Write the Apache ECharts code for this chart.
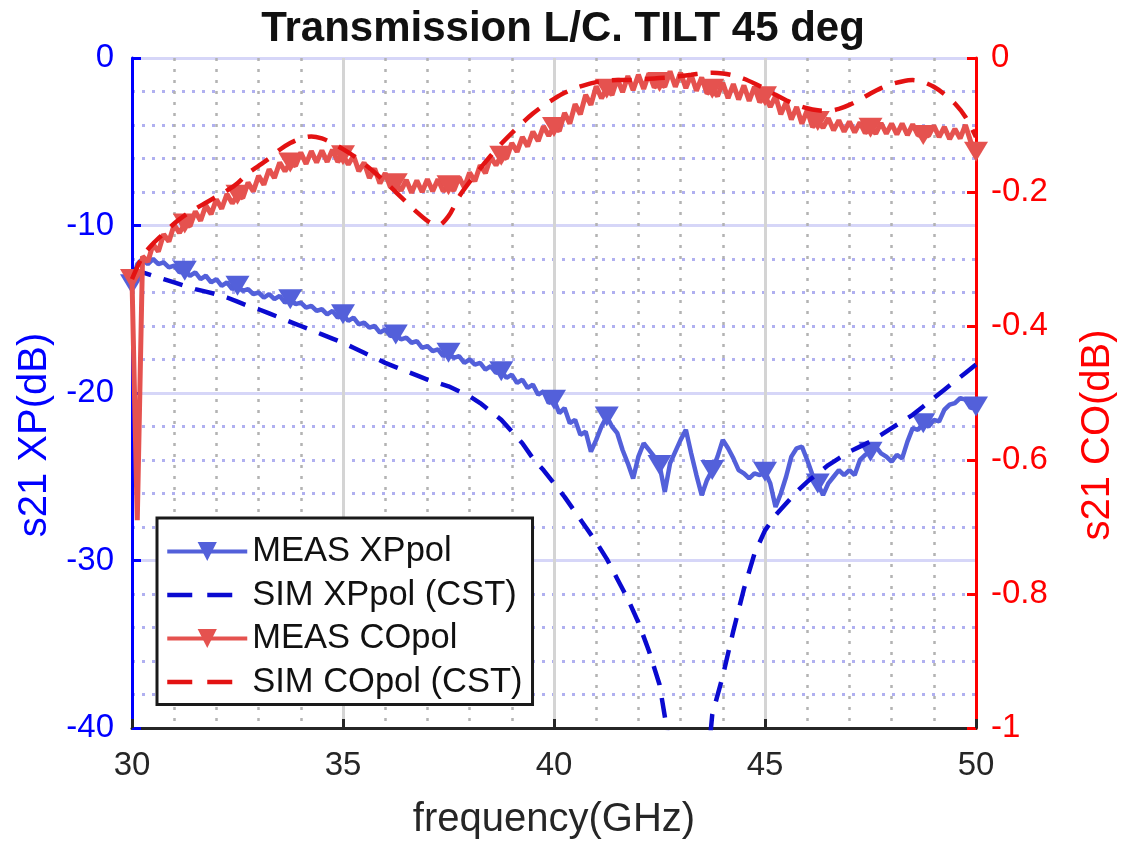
<!DOCTYPE html>
<html>
<head>
<meta charset="utf-8">
<script src="https://cdn.jsdelivr.net/npm/echarts@6/dist/echarts.min.js"></script>
<style>
html,body{margin:0;padding:0;background:#fff;}
#chart{width:1126px;height:848px;}
</style>
</head>
<body>
<div id="chart"></div>
<script>
// ---- data ----
const titleText = 'Transmission L/C. TILT 45 deg';
const seriesNames = ['MEAS XPpol', 'SIM XPpol (CST)', 'MEAS COpol', 'SIM COpol (CST)'];

const freqMeas = [30,30.125,30.25,30.375,30.5,30.625,30.75,30.875,31,31.125,31.25,31.375,31.5,31.625,31.75,31.875,
32,32.125,32.25,32.375,32.5,32.625,32.75,32.875,33,33.125,33.25,33.375,33.5,33.625,33.75,33.875,
34,34.125,34.25,34.375,34.5,34.625,34.75,34.875,35,35.125,35.25,35.375,35.5,35.625,35.75,35.875,
36,36.125,36.25,36.375,36.5,36.625,36.75,36.875,37,37.125,37.25,37.375,37.5,37.625,37.75,37.875,
38,38.125,38.25,38.375,38.5,38.625,38.75,38.875,39,39.125,39.25,39.375,39.5,39.625,39.75,39.875,
40,40.125,40.25,40.375,40.5,40.625,40.75,40.875,41,41.125,41.25,41.375,41.5,41.625,41.75,41.875,
42,42.125,42.25,42.375,42.5,42.625,42.75,42.875,43,43.125,43.25,43.375,43.5,43.625,43.75,43.875,
44,44.125,44.25,44.375,44.5,44.625,44.75,44.875,45,45.125,45.25,45.375,45.5,45.625,45.75,45.875,
46,46.125,46.25,46.375,46.5,46.625,46.75,46.875,47,47.125,47.25,47.375,47.5,47.625,47.75,47.875,
48,48.125,48.25,48.375,48.5,48.625,48.75,48.875,49,49.125,49.25,49.375,49.5,49.625,49.75,49.875,50];

const measXP = [-13.5,-12.3,-12.0,-12.3,-12.0,-12.3,-12.2,-12.5,-12.4,-12.8,-12.7,-13.0,-12.8,-13.2,-13.0,-13.4,
-13.2,-13.6,-13.4,-13.8,-13.6,-13.9,-13.8,-14.1,-14.0,-14.3,-14.1,-14.4,-14.2,-14.6,-14.4,-14.7,
-14.6,-14.9,-14.8,-15.1,-15.0,-15.3,-15.1,-15.5,-15.3,-15.7,-15.5,-15.9,-15.8,-16.1,-16.0,-16.4,
-16.2,-16.6,-16.5,-16.8,-16.7,-17.0,-16.9,-17.3,-17.2,-17.5,-17.4,-17.8,-17.6,-17.9,-17.8,-18.2,
-18.0,-18.3,-18.2,-18.6,-18.4,-18.8,-18.7,-19.1,-18.9,-19.4,-19.2,-19.7,-19.5,-20.1,-19.9,-20.6,
-20.4,-21.2,-20.9,-21.8,-21.6,-22.5,-22.3,-23.5,-22.8,-22.0,-21.4,-22.0,-22.4,-23.4,-24.2,-25.1,
-23.8,-23.0,-23.4,-23.8,-24.3,-25.9,-24.2,-23.5,-22.8,-22.2,-23.6,-24.9,-26.1,-25.2,-24.6,-23.8,
-22.8,-23.3,-23.9,-24.6,-24.8,-25.1,-24.8,-24.9,-24.7,-25.4,-26.8,-26.0,-25.0,-23.8,-23.3,-23.2,
-24.0,-24.9,-25.4,-26.1,-25.4,-25.0,-24.6,-24.9,-24.6,-24.9,-24.0,-23.7,-23.5,-23.2,-23.6,-23.8,
-24.1,-23.7,-23.9,-22.9,-22.1,-22.2,-21.8,-22.0,-21.6,-21.7,-21.0,-20.7,-20.6,-20.3,-20.4,-20.9,-20.8];

const measCO = [-0.330,-0.690,-0.296,-0.304,-0.278,-0.289,-0.263,-0.274,-0.249,-0.261,-0.247,-0.251,-0.229,-0.243,-0.220,-0.233,
-0.211,-0.225,-0.203,-0.217,-0.204,-0.209,-0.186,-0.199,-0.176,-0.189,-0.166,-0.179,-0.156,-0.169,-0.156,-0.161,
-0.141,-0.158,-0.139,-0.156,-0.138,-0.155,-0.137,-0.155,-0.145,-0.159,-0.146,-0.169,-0.156,-0.179,-0.165,-0.187,
-0.172,-0.193,-0.187,-0.198,-0.182,-0.201,-0.183,-0.200,-0.181,-0.199,-0.181,-0.199,-0.190,-0.198,-0.178,-0.193,
-0.171,-0.184,-0.160,-0.172,-0.148,-0.160,-0.146,-0.150,-0.127,-0.140,-0.118,-0.132,-0.110,-0.124,-0.102,-0.116,
-0.103,-0.109,-0.082,-0.098,-0.069,-0.084,-0.055,-0.070,-0.042,-0.060,-0.046,-0.055,-0.031,-0.051,-0.027,-0.048,
-0.025,-0.046,-0.023,-0.044,-0.036,-0.043,-0.020,-0.043,-0.022,-0.045,-0.025,-0.049,-0.029,-0.053,-0.046,-0.057,
-0.037,-0.060,-0.039,-0.062,-0.041,-0.064,-0.043,-0.066,-0.057,-0.073,-0.057,-0.084,-0.066,-0.092,-0.073,-0.098,
-0.078,-0.103,-0.094,-0.104,-0.090,-0.108,-0.093,-0.110,-0.095,-0.111,-0.096,-0.112,-0.104,-0.113,-0.097,-0.113,
-0.098,-0.114,-0.098,-0.115,-0.099,-0.115,-0.115,-0.116,-0.101,-0.118,-0.103,-0.121,-0.106,-0.120,-0.100,-0.125,-0.140];

const freqSim = [30,30.25,30.5,30.75,31,31.25,31.5,31.75,32,32.25,32.5,32.75,33,33.25,33.5,33.75,
34,34.25,34.5,34.75,35,35.25,35.5,35.75,36,36.25,36.5,36.75,37,37.25,37.5,37.75,
38,38.25,38.5,38.75,39,39.25,39.5,39.75,40,40.25,40.5,40.75,41,41.25,41.5,41.75,
42,42.25,42.5,42.75,43,43.25,43.5,43.75,44,44.25,44.5,44.75,45,45.25,45.5,45.75,
46,46.25,46.5,46.75,47,47.25,47.5,47.75,48,48.25,48.5,48.75,49,49.25,49.5,49.75,50];

const simXP = [-12.6,-12.8,-13.0,-13.2,-13.4,-13.6,-13.8,-13.95,-14.1,-14.3,-14.55,-14.8,-15.0,-15.25,-15.5,-15.75,
-16.0,-16.25,-16.5,-16.75,-17.0,-17.3,-17.6,-17.9,-18.2,-18.45,-18.7,-18.95,-19.2,-19.4,-19.6,-19.9,
-20.2,-20.6,-21.1,-21.6,-22.3,-23.0,-23.9,-24.6,-25.4,-26.2,-27.1,-28.0,-28.9,-29.9,-31.1,-32.3,
-33.7,-35.4,-37.4,-41.2,-46.0,-52.0,-46.0,-39.2,-36.9,-34.2,-31.7,-29.6,-28.2,-27.3,-26.6,-25.9,
-25.3,-24.8,-24.3,-23.9,-23.5,-23.2,-22.9,-22.5,-22.1,-21.7,-21.3,-20.8,-20.3,-19.8,-19.3,-18.8,-18.3];

const simCO = [-0.330,-0.296,-0.277,-0.262,-0.247,-0.235,-0.225,-0.216,-0.207,-0.198,-0.187,-0.172,-0.161,-0.150,-0.137,-0.127,
-0.120,-0.117,-0.120,-0.127,-0.136,-0.146,-0.158,-0.171,-0.185,-0.200,-0.215,-0.230,-0.243,-0.250,-0.236,-0.207,
-0.185,-0.165,-0.146,-0.128,-0.112,-0.097,-0.083,-0.071,-0.061,-0.052,-0.045,-0.040,-0.036,-0.034,-0.033,-0.033,
-0.032,-0.031,-0.030,-0.029,-0.027,-0.025,-0.023,-0.022,-0.023,-0.026,-0.031,-0.038,-0.046,-0.055,-0.063,-0.070,
-0.075,-0.078,-0.079,-0.076,-0.070,-0.062,-0.053,-0.045,-0.039,-0.035,-0.033,-0.036,-0.043,-0.054,-0.068,-0.088,-0.118];

const xTicks = {min: 30, max: 50, step: 5};
const yLeftTicks = {min: -40, max: 0, step: 10};
const yRightTicks = {min: -1, max: 0, step: 0.2};

// ---- build chart ----
const FONT = "'Liberation Sans', Arial, Helvetica, sans-serif";
const colMeasXP = '#5360da';
const colSimXP = '#0a0ad0';
const colMeasCO = '#e5524f';
const colSimCO = '#e31212';

function pairs(xs, ys){ return xs.map((x,i)=>[x, ys[i]]); }
function markerSize(v, p){ return (p.dataIndex % 10 === 0) ? [24, 20] : 0; }

const chart = echarts.init(document.getElementById('chart'), null, {renderer:'canvas'});
chart.setOption({
  animation: false,
  backgroundColor: '#ffffff',
  title: {
    text: titleText, left: 'center', top: 3,
    textStyle: {fontFamily: FONT, fontWeight: 'bold', fontSize: 42, color: '#111'}
  },
  grid: {left: 132, right: 149, top: 58, bottom: 120, containLabel: false},
  legend: {
    orient: 'vertical', left: 157, top: 518,
    backgroundColor: '#ffffff', borderColor: '#1a1a1a', borderWidth: 3, borderRadius: 0,
    padding: [16, 10, 5, 8],
    itemWidth: 80, itemHeight: 24, itemGap: 8.5,
    textStyle: {fontFamily: FONT, fontSize: 34.5, color: '#111', lineHeight: 34},
    lineStyle: {width: 4},
    data: [
      {name: seriesNames[0]},
      {name: seriesNames[1], itemStyle: {opacity: 0}, lineStyle: {width: 4.5, type: [25, 15]}},
      {name: seriesNames[2]},
      {name: seriesNames[3], itemStyle: {opacity: 0}, lineStyle: {width: 4.5, type: [25, 15]}}
    ]
  },
  xAxis: {
    type: 'value', min: xTicks.min, max: xTicks.max, interval: xTicks.step,
    name: 'frequency(GHz)', nameLocation: 'middle', nameGap: 72,
    nameTextStyle: {fontFamily: FONT, fontSize: 40, color: '#262626'},
    axisLine: {show: true, onZero: false, lineStyle: {color: '#262626', width: 3}},
    axisTick: {show: true, inside: true, length: 9, lineStyle: {color: '#262626', width: 3}},
    axisLabel: {fontFamily: FONT, fontSize: 33, color: '#262626', margin: 21},
    splitLine: {show: true, lineStyle: {color: '#d4d4d4', width: 3}},
    minorTick: {show: false, splitNumber: 5},
    minorSplitLine: {show: true, lineStyle: {color: '#b3b3b3', width: 2.5, type: [3, 8]}}
  },
  yAxis: [{
    type: 'value', position: 'left', min: yLeftTicks.min, max: yLeftTicks.max, interval: yLeftTicks.step,
    name: 's21 XP(dB)', nameLocation: 'middle', nameGap: 74, nameRotate: 90,
    nameTextStyle: {fontFamily: FONT, fontSize: 40, color: '#0000ff', padding: [0, 84, 0, 0]},
    axisLine: {show: true, onZero: false, lineStyle: {color: '#0000ff', width: 3}},
    axisTick: {show: true, inside: true, length: 9, lineStyle: {color: '#0000ff', width: 3}},
    axisLabel: {fontFamily: FONT, fontSize: 33, color: '#0000ff', margin: 18},
    splitLine: {show: true, lineStyle: {color: '#d6d6f8', width: 3}},
    minorTick: {show: false, splitNumber: 5},
    minorSplitLine: {show: true, lineStyle: {color: '#b0b0f0', width: 3, type: [3, 7]}}
  }, {
    type: 'value', position: 'right', min: yRightTicks.min, max: yRightTicks.max, interval: yRightTicks.step,
    name: 's21 CO(dB)', nameLocation: 'middle', nameGap: 102, nameRotate: 90,
    nameTextStyle: {fontFamily: FONT, fontSize: 40, color: '#ff0000', padding: [0, 84, 0, 0]},
    axisLine: {show: true, onZero: false, lineStyle: {color: '#ff0000', width: 3}},
    axisTick: {show: true, inside: true, length: 9, lineStyle: {color: '#ff0000', width: 3}},
    axisLabel: {fontFamily: FONT, fontSize: 33, color: '#ff0000', margin: 15},
    splitLine: {show: false}
  }],
  series: [{
    name: seriesNames[0], type: 'line', yAxisIndex: 0, z: 2,
    data: pairs(freqMeas, measXP),
    lineStyle: {color: colMeasXP, width: 4.5}, itemStyle: {color: colMeasXP},
    symbol: 'triangle', symbolRotate: 180, symbolSize: markerSize, showSymbol: true, showAllSymbol: true,
    clip: true
  }, {
    name: seriesNames[1], type: 'line', yAxisIndex: 0, z: 3,
    data: pairs(freqSim, simXP),
    lineStyle: {color: colSimXP, width: 4.5, type: [20, 13]}, itemStyle: {color: colSimXP},
    symbol: 'none', clip: true
  }, {
    name: seriesNames[2], type: 'line', yAxisIndex: 1, z: 4,
    data: pairs(freqMeas, measCO),
    lineStyle: {color: colMeasCO, width: 5}, itemStyle: {color: colMeasCO},
    symbol: 'triangle', symbolRotate: 180, symbolSize: markerSize, showSymbol: true, showAllSymbol: true,
    clip: true
  }, {
    name: seriesNames[3], type: 'line', yAxisIndex: 1, z: 5,
    data: pairs(freqSim, simCO), smooth: 0.3,
    lineStyle: {color: colSimCO, width: 4.5, type: [20, 13]}, itemStyle: {color: colSimCO},
    symbol: 'none', clip: true
  }]
});
</script>
</body>
</html>
